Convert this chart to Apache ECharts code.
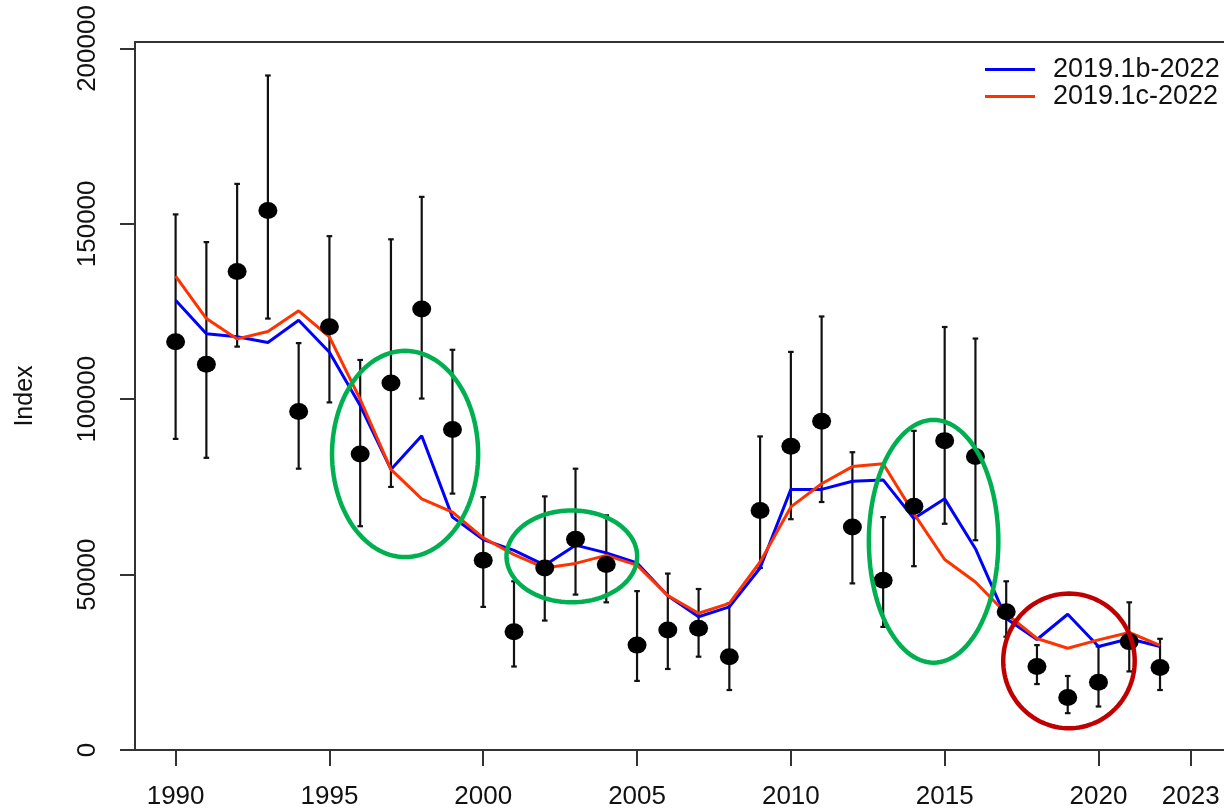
<!DOCTYPE html>
<html>
<head>
<meta charset="utf-8">
<script src="https://cdn.jsdelivr.net/npm/echarts@6/dist/echarts.min.js"></script>
<style>
html,body{margin:0;padding:0;background:#fff;}
#c{width:1224px;height:810px;}
</style>
</head>
<body>
<div id="c"></div>
<script>
// ---- data ----
const years = [1990,1991,1992,1993,1994,1995,1996,1997,1998,1999,2000,2001,2002,2003,2004,2005,2006,2007,2008,2009,2010,2011,2012,2013,2014,2015,2016,2017,2018,2019,2020,2021,2022];
const indexObs = [116400,110000,136400,153800,96500,120700,84400,104600,125700,91400,54100,33700,51900,60100,52900,29900,34200,34700,26600,68300,86600,93700,63600,48400,69500,88200,83700,39400,23800,15000,19300,30900,23500];
const indexUpper = [152700,144800,161400,192300,116000,146500,111200,145600,157700,114100,72100,48100,72300,80200,66900,45300,50300,45900,41800,89400,113500,123600,84900,66400,91000,120600,117300,48100,29900,21100,29500,42100,31700];
const indexLower = [88700,83300,115000,123000,80200,99100,63800,75000,100200,73100,40800,23800,36900,44300,42100,19700,23100,26600,17100,51900,65800,70700,47500,35100,52400,64500,59800,32300,18800,10500,12400,22400,17100];
const fit1b = [128200,118700,117800,116200,122500,113400,98200,80000,89600,66400,60000,56900,52700,58400,56200,53300,44000,38000,40800,51900,74300,74300,76600,77000,66000,71600,57400,37500,31500,38700,29500,31700,29500];
const fit1c = [135100,123000,117200,119300,125200,117800,100000,80000,71600,67800,60500,55700,51900,53200,55500,52700,44000,39000,41800,53600,69300,75900,80800,81600,67400,54300,47900,38900,31800,29000,31400,33500,29800];
const seriesNames = ['2019.1b-2022','2019.1c-2022'];
const xTicks = [1990,1995,2000,2005,2010,2015,2020,2023];
const yTicks = [0,50000,100000,150000,200000];
// annotation ellipses in data units: centre year, centre value, radius (years), radius (value)
const annoYear = [1997.46, 2002.88, 2014.64, 2019.04];
const annoValue = [84400, 55200, 59500, 25400];
const annoRYear = [2.375, 2.124, 2.105, 2.137];
const annoRValue = [29400, 13100, 34600, 19200];
const annoKind = ['green','green','green','red'];

// ---- build ----
const FONT = '"Liberation Sans", Arial, sans-serif';
const X_MIN = 1988.68, X_MAX = 2024.08;
const errData = years.map((y,i)=>[y, indexLower[i], indexUpper[i]]);
const ptData = years.map((y,i)=>[y, indexObs[i]]);
const l1 = years.map((y,i)=>[y, fit1b[i]]);
const l2 = years.map((y,i)=>[y, fit1c[i]]);
const annoData = annoYear.map((y,i)=>[y, annoValue[i], annoRYear[i], annoRValue[i], i]);
const annoColor = {green:'#00b050', red:'#c00000'};
const axisCol = '#333';

const chart = echarts.init(document.getElementById('c'), null, {renderer:'canvas'});
chart.setOption({
  animation:false,
  backgroundColor:'#fff',
  grid:{left:135, top:42, right:0, height:710, show:false},
  legend:{
    data:seriesNames, orient:'vertical', left:980, top:51, icon:'rect',
    itemWidth:50, itemHeight:3, itemGap:0,
    textStyle:{fontFamily:FONT, fontSize:27, color:'#111', lineHeight:26, padding:[0,0,0,13]}
  },
  xAxis:[{
    type:'value', min:X_MIN, max:X_MAX,
    axisLine:{show:true, lineStyle:{color:axisCol, width:2}},
    axisTick:{show:true, length:16, lineStyle:{color:axisCol, width:2}, customValues:xTicks},
    axisLabel:{fontFamily:FONT, fontSize:26, color:'#111', margin:34, customValues:xTicks, formatter:v=>String(v)},
    splitLine:{show:false}
  },{
    type:'value', position:'top', min:X_MIN, max:X_MAX,
    axisLine:{show:true, lineStyle:{color:axisCol, width:2}},
    axisTick:{show:false}, axisLabel:{show:false}, splitLine:{show:false}
  }],
  yAxis:{
    type:'value', min:0, max:201850,
    name:'Index', nameLocation:'middle', nameRotate:90, nameGap:97,
    nameTextStyle:{fontFamily:FONT, fontSize:25, color:'#111'},
    axisLine:{show:true, lineStyle:{color:axisCol, width:2}},
    axisTick:{show:true, length:15, lineStyle:{color:axisCol, width:2}, customValues:yTicks},
    axisLabel:{fontFamily:FONT, fontSize:26, color:'#111', rotate:90, margin:34, customValues:yTicks, formatter:v=>String(v)},
    splitLine:{show:false}
  },
  series:[
    {
      type:'custom', name:'err', z:2, clip:false, silent:true,
      data:errData, encode:{x:0, y:[1,2]},
      renderItem:function(params, api){
        const x = api.value(0);
        const pl = api.coord([x, api.value(1)]);
        const ph = api.coord([x, api.value(2)]);
        const cw = 2.8;
        const st = {stroke:'#111', lineWidth:2.2};
        return {type:'group', children:[
          {type:'line', shape:{x1:ph[0], y1:ph[1], x2:pl[0], y2:pl[1]}, style:st},
          {type:'line', shape:{x1:ph[0]-cw, y1:ph[1], x2:ph[0]+cw, y2:ph[1]}, style:st},
          {type:'line', shape:{x1:pl[0]-cw, y1:pl[1], x2:pl[0]+cw, y2:pl[1]}, style:st}
        ]};
      }
    },
    {
      type:'line', name:seriesNames[0], data:l1, z:3, showSymbol:false, symbol:'none',
      color:'#0000ff', lineStyle:{color:'#0000ff', width:3}
    },
    {
      type:'line', name:seriesNames[1], data:l2, z:3, showSymbol:false, symbol:'none',
      color:'#ff3300', lineStyle:{color:'#ff3300', width:3}
    },
    {
      type:'scatter', name:'obs', data:ptData, z:4, symbol:'circle', symbolSize:[19,17],
      itemStyle:{color:'#000', opacity:1}
    },
    {
      type:'custom', name:'anno', z:5, clip:false, silent:true,
      data:annoData, encode:{x:0, y:1},
      renderItem:function(params, api){
        const cx = api.value(0), cy = api.value(1), rx = api.value(2), ry = api.value(3);
        const k = annoKind[api.value(4)];
        const pts = [];
        for(let i=0;i<120;i++){
          const t = i/120*Math.PI*2;
          pts.push(api.coord([cx + rx*Math.cos(t), cy + ry*Math.sin(t)]));
        }
        return {type:'polygon', shape:{points:pts}, style:{fill:'none', stroke:annoColor[k], lineWidth:4.5}};
      }
    }
  ]
});
</script>
</body>
</html>
